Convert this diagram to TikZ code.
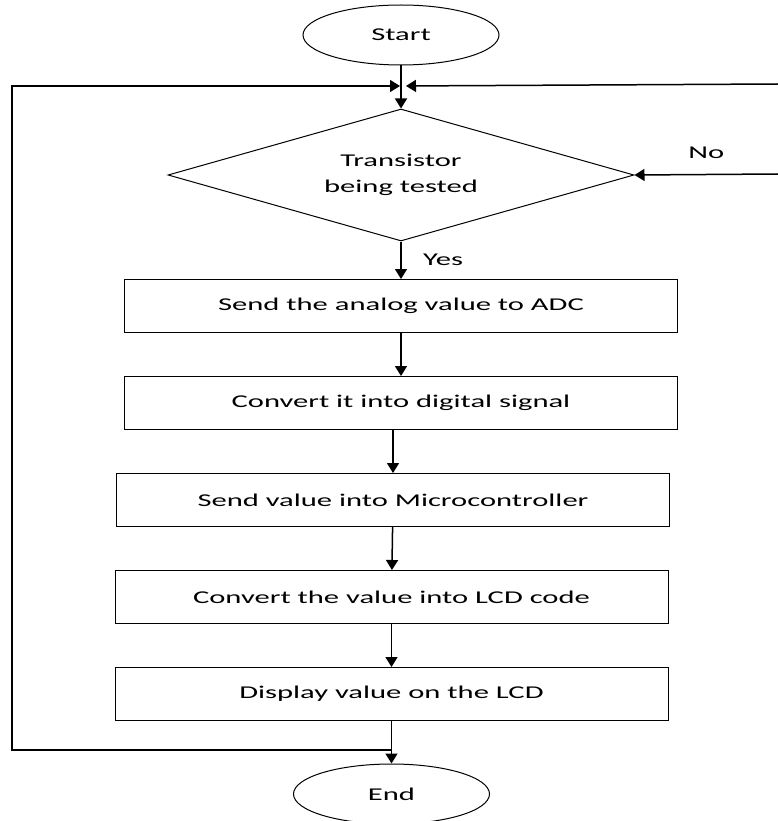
\documentclass[tikz,border=0pt]{standalone}
\usepackage{fontspec}
\setmainfont{Carlito}[FakeStretch=1.7]
\usetikzlibrary{shapes.geometric,arrows.meta}
\tikzstyle{startstop} = [ellipse, minimum width=196pt, minimum height=60pt, text centered, draw=black, line width=1pt]
\tikzstyle{decision} = [diamond, shape aspect=3.5, minimum width=466pt, minimum height=132pt, inner sep=0pt, align=center, draw=black, line width=1pt]
\tikzstyle{process} = [rectangle, minimum width=553pt, minimum height=53pt, text centered, draw=black, line width=1pt]
\tikzstyle{arrow} = [line width=1.5pt, -{Triangle[length=10pt,width=12pt]}]

\begin{document}
\begin{tikzpicture}[x=1pt, y=-1pt, node distance=97pt, font=\fontsize{18}{26}\selectfont]
\useasboundingbox (0,0) rectangle (778,821);
\node (start) [startstop] at (401,35) {Start};
\node (dec) [decision, below of=start, node distance=140pt] {Transistor\\being tested};
\node (pro1) [process, below of=dec, node distance=131pt] {Send the analog value to ADC};
\node (pro2) [process, below of=pro1] {Convert it into digital signal};
\node (pro3) [process, below of=pro2, xshift=-8pt] {Send value into Microcontroller};
\node (pro4) [process, below of=pro3, xshift=-1.5pt] {Convert the value into LCD code};
\node (pro5) [process, below of=pro4] {Display value on the LCD};
\node (stop) [startstop, below of=pro5, node distance=100pt] {End};
% loop points
\coordinate (join) at (402,86);
\coordinate (back) at (392,750);
\coordinate (rtop) at (778,84);
\coordinate (rno) at (778,174);
\draw [arrow] (start) -- (dec);
\draw [arrow] (dec) -- node[anchor=west, xshift=18pt] {Yes} (pro1);
\draw [arrow] (pro1) -- (pro2);
\draw [arrow] (pro3.north |- pro2.south) -- (pro3);
\draw [arrow] (pro3) -- (pro4);
\draw [arrow] (pro4) -- (pro5);
\draw [arrow] (pro5) -- (stop);
\draw [arrow, shorten >=2pt] (back) -- ++(-380,0) |- (join);
\draw [arrow, shorten >=4pt] (rtop) -- (join);
\draw [arrow] (rno) -- node[anchor=south, yshift=12pt] {No} (dec.east);
\end{tikzpicture}
\end{document}
